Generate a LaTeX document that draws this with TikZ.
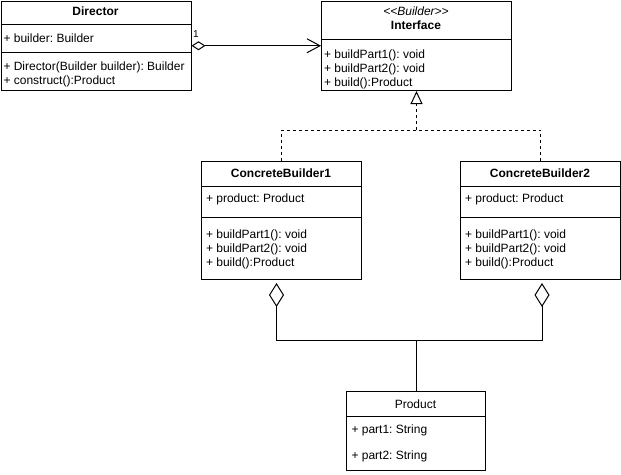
\documentclass[tikz,border=0pt]{standalone}
\usepackage{fontspec}
\setmainfont{Liberation Sans}[Ligatures=TeXOff]
\usetikzlibrary{arrows.meta}
\frenchspacing

\begin{document}
\begin{tikzpicture}[x=1pt,y=1pt,line width=1pt,
    cls/.style={draw, anchor=north west, inner sep=0pt},
    txt/.style={inner sep=0pt, align=left, anchor=west, font=\fontsize{12}{14}\selectfont},
    ttl/.style={inner sep=0pt, align=center, font=\fontsize{12}{14}\selectfont},
    implem/.style={dash pattern=on 3pt off 3pt}]
  \useasboundingbox (0,0) rectangle (621,-474);
  % Director
  \node[cls, minimum width=190pt, minimum height=89.5pt] (dir) at (0.5,-0.5) {};
  \node[ttl] (dirT) at (95.5,-11.5) {\textbf{Director}};
  \draw (dir.west |- 0,-24) -- (dir.east |- 0,-24);
  \node[txt] (dirA) at (3,-38) {+ builder: Builder};
  \draw (dir.west |- 0,-52) -- (dir.east |- 0,-52);
  \node[txt] (dirM) at (3,-74) {+ Director(Builder builder): Builder\\+ construct():Product};
  % Interface
  \node[cls, minimum width=190pt, minimum height=89.5pt] (intf) at (321,-0.5) {};
  \node[ttl] (intfT) at (416,-18.5) {\textit{<<Builder>>}\\\textbf{Interface}};
  \draw (intf.west |- 0,-39) -- (intf.east |- 0,-39);
  \node[txt] (intfM) at (323.5,-69) {+ buildPart1(): void\\+ buildPart2(): void\\+ build():Product};
  % ConcreteBuilder1
  \node[cls, minimum width=160pt, minimum height=118pt] (cb1) at (201,-161) {};
  \node[ttl] (cb1T) at (281,-173.5) {\textbf{ConcreteBuilder1}};
  \draw (cb1.west |- 0,-186) -- (cb1.east |- 0,-186);
  \node[txt] (cb1A) at (205.5,-199.5) {+ product: Product};
  \draw (cb1.west |- 0,-217) -- (cb1.east |- 0,-217);
  \node[txt] (cb1M) at (205.5,-249) {+ buildPart1(): void\\+ buildPart2(): void\\+ build():Product};
  % ConcreteBuilder2
  \node[cls, minimum width=160pt, minimum height=118pt] (cb2) at (460,-161) {};
  \node[ttl] (cb2T) at (540,-173.5) {\textbf{ConcreteBuilder2}};
  \draw (cb2.west |- 0,-186) -- (cb2.east |- 0,-186);
  \node[txt] (cb2A) at (464.5,-199.5) {+ product: Product};
  \draw (cb2.west |- 0,-217) -- (cb2.east |- 0,-217);
  \node[txt] (cb2M) at (464.5,-249) {+ buildPart1(): void\\+ buildPart2(): void\\+ build():Product};
  % Product
  \node[cls, minimum width=139pt, minimum height=79pt] (prod) at (346,-391) {};
  \node[ttl] (prodT) at (415.5,-404) {Product};
  \draw (prod.west |- 0,-416) -- (prod.east |- 0,-416);
  \node[txt] (prodA) at (351,-430) {+ part1: String};
  \node[txt] (prodB) at (351,-456) {+ part2: String};
  % Director -> Interface
  \draw[{Diamond[open,length=14pt,width=9pt]}-{Straight Barb[length=13pt,width=14pt]}]
    (dir.east) -- node[pos=0, anchor=south west, inner sep=0pt, xshift=1pt, yshift=8pt,
    font=\fontsize{10}{12}\selectfont] (mult) {1} (intf.west);
  % realisation
  \coordinate (inh) at (intf.south |- 0,-130);
  \draw[implem, -{Triangle[open,length=13pt,width=12pt]}] (inh) -- (intf.south);
  \draw[implem] (cb1.north) |- (inh) -| (cb2.north);
  % aggregation
  \coordinate (agg) at (prod.north |- 0,-340);
  \draw[{Diamond[open,length=24pt,width=15pt]}-, shorten <=3pt] ([xshift=-5pt]cb1.south) |- (agg);
  \draw[{Diamond[open,length=24pt,width=15pt]}-, shorten <=3pt] ([xshift=1.5pt]cb2.south) |- (agg);
  \draw (agg) -- (prod.north);
\end{tikzpicture}
\end{document}
